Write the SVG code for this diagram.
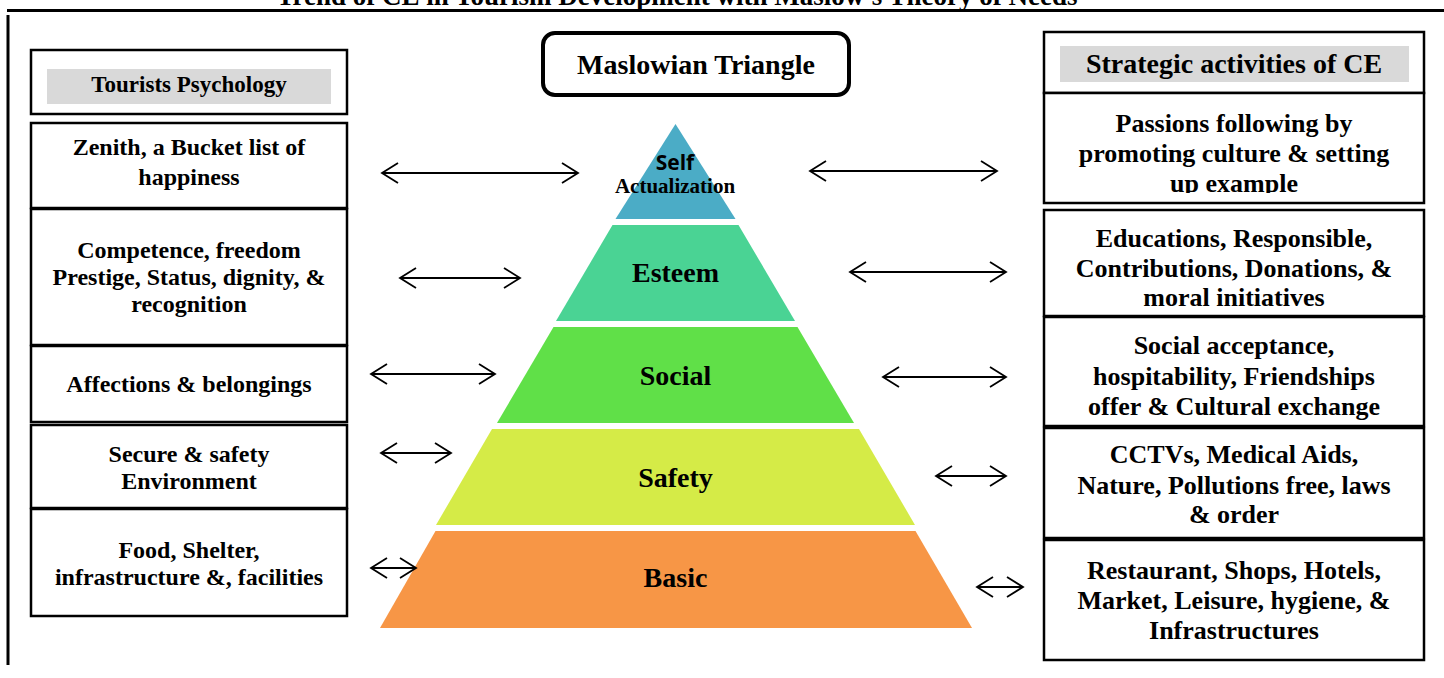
<svg xmlns="http://www.w3.org/2000/svg" width="1444" height="678" viewBox="0 0 1444 678">
<style>
.box{fill:#fff;stroke:#000;stroke-width:2.5}
.band{fill:#d9d9d9}
.t{font-family:"Liberation Serif","Times New Roman",serif;font-weight:bold;text-anchor:middle;fill:#000}
.tl{font-size:24px}
.tr{font-size:26px}
.lvl{font-size:28px}
.arr{stroke:#000;stroke-width:1.8;fill:none;marker-start:url(#chev);marker-end:url(#chev)}
</style>
<defs>
<marker id="chev" markerUnits="userSpaceOnUse" viewBox="-20 -13 24 26" markerWidth="24" markerHeight="26" refX="0" refY="0" orient="auto-start-reverse">
<path d="M-16,-10 L0,0 L-16,10" fill="none" stroke="#000" stroke-width="1.8"/>
</marker>
<clipPath id="clipPassion"><rect x="1043" y="93" width="382" height="100"/></clipPath>
</defs>
<rect width="1444" height="678" fill="#fff"/>

<g id="title">
<text class="t" x="677" y="4.5" font-size="27">Trend of CE in Tourism Development with Maslow's Theory of Needs</text>
<line x1="7" y1="10.5" x2="1444" y2="10.5" stroke="#000" stroke-width="3"/>
<line x1="8" y1="15" x2="8" y2="665" stroke="#000" stroke-width="3"/>
</g>

<g id="maslowian-box">
<rect x="543" y="33" width="306" height="62" rx="12" fill="#fff" stroke="#000" stroke-width="4"/>
<text class="t" x="696" y="74" font-size="28">Maslowian Triangle</text>
</g>

<g id="tourists-header">
<rect class="box" x="31" y="50" width="316" height="64"/>
<rect class="band" x="47" y="69" width="284" height="35"/>
<text class="t" x="189" y="92" font-size="23">Tourists Psychology</text>
</g>
<g id="left-zenith">
<rect class="box" x="31" y="123" width="316" height="85"/>
<text class="t tl" x="189" y="155">Zenith, a Bucket list of</text>
<text class="t tl" x="189" y="185">happiness</text>
</g>
<g id="left-competence">
<rect class="box" x="31" y="209" width="316" height="136"/>
<text class="t tl" x="189" y="258">Competence, freedom</text>
<text class="t tl" x="189" y="285">Prestige, Status, dignity, &amp;</text>
<text class="t tl" x="189" y="312">recognition</text>
</g>
<g id="left-affections">
<rect class="box" x="31" y="346" width="316" height="76"/>
<text class="t tl" x="189" y="392">Affections &amp; belongings</text>
</g>
<g id="left-secure">
<rect class="box" x="31" y="425" width="316" height="83"/>
<text class="t tl" x="189" y="462">Secure &amp; safety</text>
<text class="t tl" x="189" y="489">Environment</text>
</g>
<g id="left-food">
<rect class="box" x="31" y="509" width="316" height="107"/>
<text class="t tl" x="189" y="558">Food, Shelter,</text>
<text class="t tl" x="189" y="585">infrastructure &amp;, facilities</text>
</g>

<g id="strategic-header">
<rect class="box" x="1044" y="32" width="380" height="61"/>
<rect class="band" x="1060" y="46" width="349" height="36"/>
<text class="t" x="1234" y="73" font-size="28">Strategic activities of CE</text>
</g>
<g id="right-passions">
<rect class="box" x="1044" y="93" width="380" height="110"/>
<g clip-path="url(#clipPassion)">
<text class="t tr" x="1234" y="132">Passions following by</text>
<text class="t tr" x="1234" y="162">promoting culture &amp; setting</text>
<text class="t tr" x="1234" y="192">up example</text>
</g>
</g>
<g id="right-educations">
<rect class="box" x="1044" y="210" width="380" height="106"/>
<text class="t tr" x="1234" y="247">Educations, Responsible,</text>
<text class="t tr" x="1234" y="277">Contributions, Donations, &amp;</text>
<text class="t tr" x="1234" y="306">moral initiatives</text>
</g>
<g id="right-social">
<rect class="box" x="1044" y="317" width="380" height="109"/>
<text class="t tr" x="1234" y="354">Social acceptance,</text>
<text class="t tr" x="1234" y="385">hospitability, Friendships</text>
<text class="t tr" x="1234" y="415">offer &amp; Cultural exchange</text>
</g>
<g id="right-cctv">
<rect class="box" x="1044" y="428" width="380" height="110"/>
<text class="t tr" x="1234" y="463">CCTVs, Medical Aids,</text>
<text class="t tr" x="1234" y="494">Nature, Pollutions free, laws</text>
<text class="t tr" x="1234" y="523">&amp; order</text>
</g>
<g id="right-restaurant">
<rect class="box" x="1044" y="540" width="380" height="120"/>
<text class="t tr" x="1234" y="579">Restaurant, Shops, Hotels,</text>
<text class="t tr" x="1234" y="609">Market, Leisure, hygiene, &amp;</text>
<text class="t tr" x="1234" y="639">Infrastructures</text>
</g>

<g id="level-self">
<polygon points="675.5,124 735.5,219 615.5,219" fill="#4bacc6"/>
<text x="675" y="170" font-family="'Open Sans','Noto Sans',sans-serif" font-weight="bold" font-size="21" text-anchor="middle" fill="#000">Self</text>
<text class="t" x="675" y="193" font-size="21">Actualization</text>
</g>
<g id="level-esteem">
<polygon points="612.5,225 738.5,225 795,321 556,321" fill="#4ad394"/>
<text class="t lvl" x="675.5" y="282">Esteem</text>
</g>
<g id="level-social">
<polygon points="553.5,327 797.5,327 854,423 497,423" fill="#60e048"/>
<text class="t lvl" x="675.5" y="385">Social</text>
</g>
<g id="level-safety">
<polygon points="492,429 859,429 915,525 436,525" fill="#d5eb47"/>
<text class="t lvl" x="675.5" y="487">Safety</text>
</g>
<g id="level-basic">
<polygon points="435.5,531 915.5,531 972,628 380,628" fill="#f79646"/>
<text class="t lvl" x="675.5" y="587">Basic</text>
</g>

<g id="connectors">
<line class="arr" x1="382" y1="173" x2="578" y2="173"/>
<line class="arr" x1="400" y1="278" x2="520" y2="278"/>
<line class="arr" x1="371" y1="374" x2="495" y2="374"/>
<line class="arr" x1="381" y1="453" x2="451" y2="453"/>
<line class="arr" x1="371" y1="568" x2="416" y2="568"/>
<line class="arr" x1="810" y1="171" x2="997" y2="171"/>
<line class="arr" x1="850" y1="272" x2="1006" y2="272"/>
<line class="arr" x1="883" y1="377" x2="1006" y2="377"/>
<line class="arr" x1="936" y1="476" x2="1006" y2="476"/>
<line class="arr" x1="977" y1="587" x2="1023" y2="587"/>
</g>
</svg>
